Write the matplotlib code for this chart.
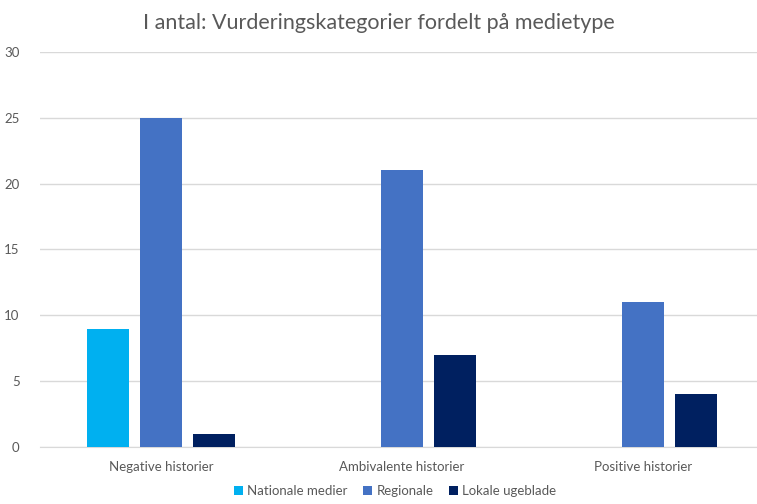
import numpy as np
import matplotlib.pyplot as plt

plt.rcParams['font.family'] = ['Lato', 'DejaVu Sans']

categories = ['Negative historier', 'Ambivalente historier', 'Positive historier']
series_names = ['Nationale medier', 'Regionale', 'Lokale ugeblade']
nationale = [9, 0, 0]
regionale = [25, 21, 11]
lokale = [1, 7, 4]
colors = ['#00B0F0', '#4472C4', '#002060']

fig = plt.figure(figsize=(7.57, 5.04), dpi=100)
ax = fig.add_axes([0.0535, 0.113, 0.9465, 0.784])

x = np.arange(len(categories))
width = 0.174
step = 0.22
for i, (vals, name) in enumerate(zip([nationale, regionale, lokale], series_names)):
    ax.bar(x + (i - 1) * step, vals, width, color=colors[i], label=name, zorder=3)

ax.set_xlim(-0.5, 2.473)
ax.set_ylim(0, 30)
ax.set_yticks(range(0, 31, 5))
ax.set_xticks(x)
ax.set_xticklabels(categories)
ax.grid(axis='y', color='#D9D9D9', linewidth=1, zorder=0)
for s in ['top', 'right', 'left']:
    ax.spines[s].set_visible(False)
ax.spines['bottom'].set_color('#D9D9D9')
ax.tick_params(axis='both', length=0, colors='#595959', labelsize=9.5)
ax.tick_params(axis='x', pad=10)
ax.tick_params(axis='y', pad=15)

fig.suptitle('I antal: Vurderingskategorier fordelt på medietype', y=0.975,
             fontsize=15.5, color='#595959')
fig.legend(loc='lower center', bbox_to_anchor=(0.522, -0.01), ncol=3, frameon=False,
           fontsize=9.5, handlelength=0.7, handleheight=0.7, columnspacing=1.2,
           handletextpad=0.3, labelcolor='#595959')

fig.savefig('out.png', dpi=100)
